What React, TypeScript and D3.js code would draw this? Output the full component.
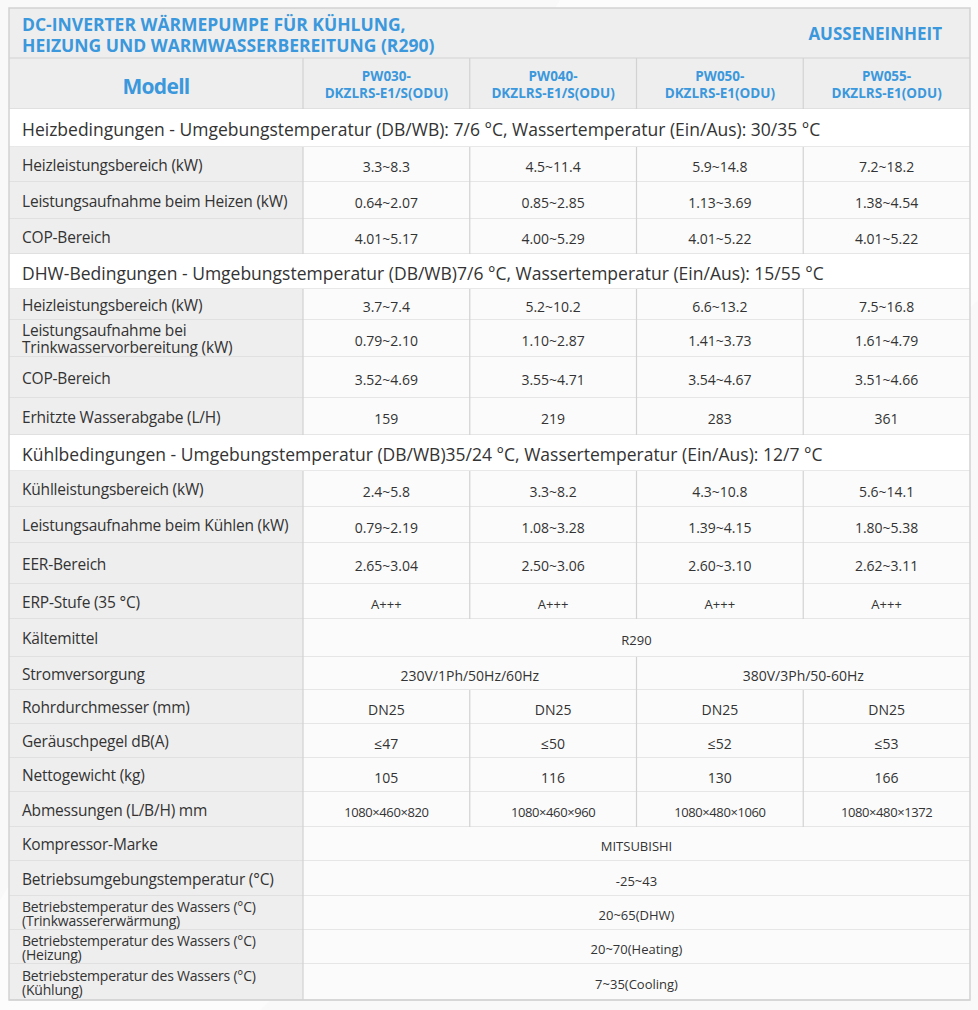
import React from "react";
import * as d3 from "d3";

const titleLines = ["DC-INVERTER WÄRMEPUMPE FÜR KÜHLUNG,", "HEIZUNG UND WARMWASSERBEREITUNG (R290)"];
const unitLabel = "AUSSENEINHEIT";
const modelHeader = "Modell";
const models = [
  ["PW030-", "DKZLRS-E1/S(ODU)"],
  ["PW040-", "DKZLRS-E1/S(ODU)"],
  ["PW050-", "DKZLRS-E1(ODU)"],
  ["PW055-", "DKZLRS-E1(ODU)"],
];

const heatSection = "Heizbedingungen - Umgebungstemperatur (DB/WB): 7/6 °C, Wassertemperatur (Ein/Aus): 30/35 °C";
const heatCapacity = ["3.3~8.3", "4.5~11.4", "5.9~14.8", "7.2~18.2"];
const heatPower = ["0.64~2.07", "0.85~2.85", "1.13~3.69", "1.38~4.54"];
const heatCop = ["4.01~5.17", "4.00~5.29", "4.01~5.22", "4.01~5.22"];

const dhwSection = "DHW-Bedingungen - Umgebungstemperatur (DB/WB)7/6 °C, Wassertemperatur (Ein/Aus): 15/55 °C";
const dhwCapacity = ["3.7~7.4", "5.2~10.2", "6.6~13.2", "7.5~16.8"];
const dhwPower = ["0.79~2.10", "1.10~2.87", "1.41~3.73", "1.61~4.79"];
const dhwCop = ["3.52~4.69", "3.55~4.71", "3.54~4.67", "3.51~4.66"];
const dhwOutput = ["159", "219", "283", "361"];

const coolSection = "Kühlbedingungen - Umgebungstemperatur (DB/WB)35/24 °C, Wassertemperatur (Ein/Aus): 12/7 °C";
const coolCapacity = ["2.4~5.8", "3.3~8.2", "4.3~10.8", "5.6~14.1"];
const coolPower = ["0.79~2.19", "1.08~3.28", "1.39~4.15", "1.80~5.38"];
const coolEer = ["2.65~3.04", "2.50~3.06", "2.60~3.10", "2.62~3.11"];
const erpLevel = ["A+++", "A+++", "A+++", "A+++"];

const refrigerant = ["R290"];
const powerSupply = ["230V/1Ph/50Hz/60Hz", "380V/3Ph/50-60Hz"];
const pipeDiameter = ["DN25", "DN25", "DN25", "DN25"];
const noiseLevel = ["≤47", "≤50", "≤52", "≤53"];
const netWeight = ["105", "116", "130", "166"];
const dimensions = ["1080×460×820", "1080×460×960", "1080×480×1060", "1080×480×1372"];
const compressor = ["MITSUBISHI"];
const ambientTemp = ["-25~43"];
const waterTempDhw = ["20~65(DHW)"];
const waterTempHeat = ["20~70(Heating)"];
const waterTempCool = ["7~35(Cooling)"];

type Row =
  | { kind: "section"; text: string }
  | { kind: "data"; label: string[]; values: string[]; small?: boolean };

const rows: Row[] = [
  { kind: "section", text: heatSection },
  { kind: "data", label: ["Heizleistungsbereich (kW)"], values: heatCapacity },
  { kind: "data", label: ["Leistungsaufnahme beim Heizen (kW)"], values: heatPower },
  { kind: "data", label: ["COP-Bereich"], values: heatCop },
  { kind: "section", text: dhwSection },
  { kind: "data", label: ["Heizleistungsbereich (kW)"], values: dhwCapacity },
  { kind: "data", label: ["Leistungsaufnahme bei", "Trinkwasservorbereitung (kW)"], values: dhwPower },
  { kind: "data", label: ["COP-Bereich"], values: dhwCop },
  { kind: "data", label: ["Erhitzte Wasserabgabe (L/H)"], values: dhwOutput },
  { kind: "section", text: coolSection },
  { kind: "data", label: ["Kühlleistungsbereich (kW)"], values: coolCapacity },
  { kind: "data", label: ["Leistungsaufnahme beim Kühlen (kW)"], values: coolPower },
  { kind: "data", label: ["EER-Bereich"], values: coolEer },
  { kind: "data", label: ["ERP-Stufe (35 °C)"], values: erpLevel, small: true },
  { kind: "data", label: ["Kältemittel"], values: refrigerant, small: true },
  { kind: "data", label: ["Stromversorgung"], values: powerSupply },
  { kind: "data", label: ["Rohrdurchmesser (mm)"], values: pipeDiameter },
  { kind: "data", label: ["Geräuschpegel dB(A)"], values: noiseLevel },
  { kind: "data", label: ["Nettogewicht (kg)"], values: netWeight },
  { kind: "data", label: ["Abmessungen (L/B/H) mm"], values: dimensions, small: true },
  { kind: "data", label: ["Kompressor-Marke"], values: compressor, small: true },
  { kind: "data", label: ["Betriebsumgebungstemperatur (°C)"], values: ambientTemp, small: true },
  { kind: "data", label: ["Betriebstemperatur des Wassers (°C)", "(Trinkwassererwärmung)"], values: waterTempDhw, small: true },
  { kind: "data", label: ["Betriebstemperatur des Wassers (°C)", "(Heizung)"], values: waterTempHeat, small: true },
  { kind: "data", label: ["Betriebstemperatur des Wassers (°C)", "(Kühlung)"], values: waterTempCool, small: true },
];

// layout
const W = 978;
const H = 1010;
const X0 = 9;
const XL = 303;
const X1 = 970;
const TOP = 8;
const titleH = 50;
const modelH = 51;
const rowHeights = [38, 35, 37, 35, 35, 31, 37, 41, 37, 36, 36, 36, 41, 35, 38, 33, 34, 34, 34, 35, 34, 35, 34, 34, 36];

const BLUE = "#3b98dc";
const TEXT = "#333333";
const GRID = "#d2d2d2";
const LABEL_BG = "#eeeeee";
const HEAD_BG = "#eeeeee";
const CELL_BG = "#fbfbfb";
const FONT = "'Open Sans', 'Noto Sans', sans-serif";

export default function App() {
  const x = d3.scaleBand<number>().domain(d3.range(models.length)).range([XL, X1]);
  const bw = x.bandwidth();
  const bodyTop = TOP + titleH + modelH;
  const ys = [bodyTop, ...d3.cumsum(rowHeights).map((v) => bodyTop + v)];
  const bottom = ys[ys.length - 1];

  return (
    <svg width={W} height={H} style={{ position: "absolute", left: 0, top: 0 }} fontFamily={FONT}>
      <rect x={0} y={0} width={W} height={H} fill="#f9f9f9" />
      <polygon points={`${560},0 ${W},0 ${W},${300} ${260},${H} ${0},${H} ${0},${900}`} fill="#ffffff" opacity={0.5} />
      {/* title band */}
      <rect x={X0} y={TOP} width={X1 - X0} height={titleH} fill={HEAD_BG} />
      {titleLines.map((t, i) => (
        <text key={t} x={22} y={TOP + 16 + i * 21} fontSize={17.5} fontWeight={700} fill={BLUE} dominantBaseline="central">
          {t}
        </text>
      ))}
      <text x={942} y={TOP + 25} fontSize={17} fontWeight={700} fill={BLUE} textAnchor="end" dominantBaseline="central">
        {unitLabel}
      </text>
      {/* model band */}
      <rect x={X0} y={TOP + titleH} width={X1 - X0} height={modelH} fill={HEAD_BG} />
      <text x={(X0 + XL) / 2} y={TOP + titleH + modelH / 2 + 2} fontSize={21} fontWeight={700} fill={BLUE} textAnchor="middle" dominantBaseline="central" letterSpacing={-0.7}>
        {modelHeader}
      </text>
      {models.map((m, i) => (
        <g key={i}>
          {m.map((line, j) => (
            <text key={j} x={(x(i) as number) + bw / 2} y={TOP + titleH + 18 + j * 17} fontSize={13.5} fontWeight={700} fill={BLUE} textAnchor="middle" dominantBaseline="central">
              {line}
            </text>
          ))}
          <line x1={x(i)} x2={x(i)} y1={TOP + titleH} y2={TOP + titleH + modelH} stroke={GRID} strokeWidth={1.2} />
        </g>
      ))}
      <line x1={X0} x2={X1} y1={TOP + titleH} y2={TOP + titleH} stroke={GRID} strokeWidth={1.2} />
      <line x1={X0} x2={X1} y1={bodyTop} y2={bodyTop} stroke={GRID} strokeWidth={1.2} />

      {rows.map((r, i) => {
        const y0 = ys[i];
        const h = rowHeights[i];
        const cy = y0 + h / 2;
        if (r.kind === "section") {
          return (
            <g key={i}>
              <rect x={X0} y={y0} width={X1 - X0} height={h} fill="#ffffff" />
              <text x={22} y={cy + 1} fontSize={17.5} fill={TEXT} dominantBaseline="central">
                {r.text}
              </text>
              <line x1={X0} x2={X1} y1={y0 + h} y2={y0 + h} stroke={GRID} strokeWidth={1.2} />
            </g>
          );
        }
        const n = r.values.length;
        const span = models.length / n;
        const two = r.label.length > 1;
        const tight = two && r.label[0].startsWith("Betriebstemperatur");
        const labelSize = tight ? 14 : 15.5;
        const lh = tight ? 14 : 16.5;
        return (
          <g key={i}>
            <rect x={X0} y={y0} width={XL - X0} height={h} fill={LABEL_BG} />
            <rect x={XL} y={y0} width={X1 - XL} height={h} fill={CELL_BG} />
            {r.label.map((l, j) => (
              <text key={j} x={22} y={cy + (j - (r.label.length - 1) / 2) * lh} fontSize={labelSize} fill={TEXT} dominantBaseline="central" letterSpacing={-0.2}>
                {l}
              </text>
            ))}
            {r.values.map((v, j) => {
              const xs = x(j * span) as number;
              const wide = bw * span;
              return (
                <g key={j}>
                  <text x={xs + wide / 2} y={cy + 2} fontSize={r.small ? 13 : 14} fill={TEXT} textAnchor="middle" dominantBaseline="central" letterSpacing={r.values === dimensions ? -0.4 : 0}>
                    {v}
                  </text>
                  <line x1={xs} x2={xs} y1={y0} y2={y0 + h} stroke={GRID} strokeWidth={1.2} />
                </g>
              );
            })}
            <line x1={X0} x2={X1} y1={y0 + h} y2={y0 + h} stroke={GRID} strokeWidth={1.2} />
          </g>
        );
      })}
      <rect x={X0} y={TOP} width={X1 - X0} height={bottom - TOP} fill="none" stroke={GRID} strokeWidth={1.5} />
    </svg>
  );
}
